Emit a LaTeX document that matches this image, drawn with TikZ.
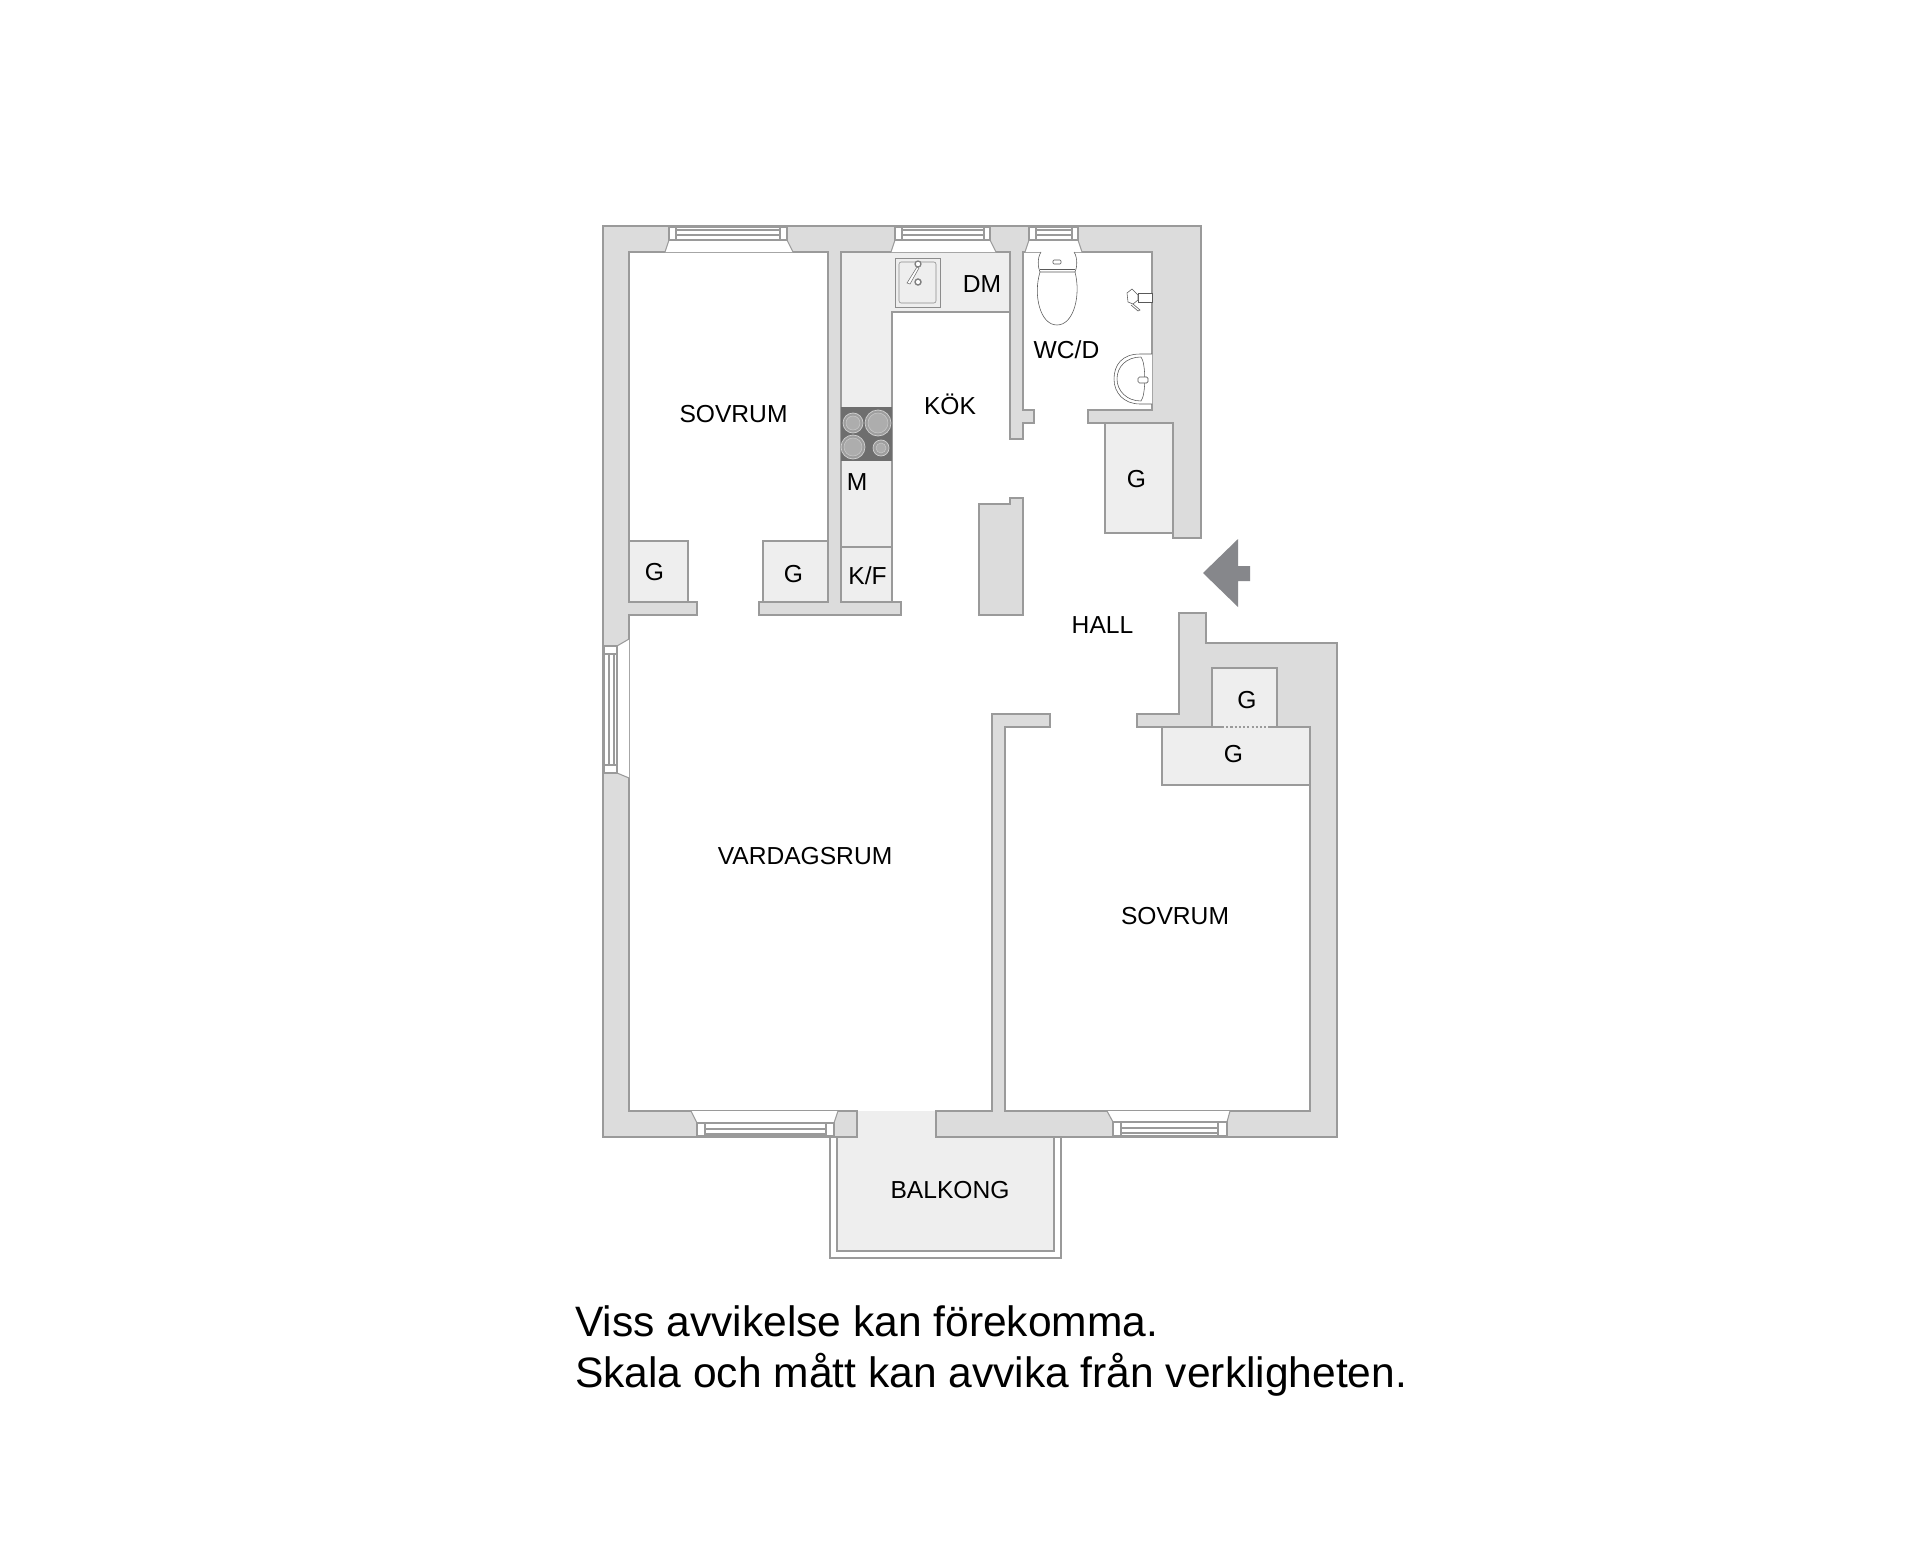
\documentclass[tikz,border=0pt]{standalone}
\usepackage{fontspec}
\setmainfont{Liberation Sans}
\definecolor{wallgray}{HTML}{DCDCDC}
\definecolor{linegray}{HTML}{9A9A9A}
\definecolor{fitgray}{HTML}{EEEEEE}
\definecolor{hobgray}{HTML}{6E6E6E}
\definecolor{arrowgray}{HTML}{86878B}

\begin{document}
\begin{tikzpicture}[x = 0.5mm, y = -0.5mm,
	wall/.style = {fill=wallgray,draw=linegray,line width=2pt,line join=miter},
	fitting/.style = {fill=fitgray,draw=linegray,line width=2pt},
	glass/.style = {fill=white,draw=linegray,line width=1.5pt},
	fixture/.style = {fill=white,draw=black!65,line width=0.8pt},
	ring/.style = {fill=black!38,draw=black!18,line width=1pt},
	core/.style = {fill=black!32,draw=black!22,line width=0.8pt},
	room/.style = {font=\fontsize{35}{42}\selectfont,inner sep=0pt},
	note/.style = {font=\fontsize{60.5}{72}\selectfont,inner sep=0pt,anchor=base west},]
	
	\path[use as bounding box,fill=white] (0,0) rectangle (1920,1567);
	
	\fill[fitgray] (857,1111) rectangle (936,1137);
	\draw[fill=white,draw=linegray,line width=2pt] (830,1137) -- (830,1258) -- (1061,1258) -- (1061,1137);
	\draw[fitting] (837,1137) -- (837,1251) -- (1054,1251) -- (1054,1137);
	
	\draw[fitting] (841,252) -- (1010,252) -- (1010,312) -- (892,312) -- (892,602) -- (841,602) -- cycle;
	\draw[fitting] (629,541) rectangle (688,602);
	\draw[fitting] (763,541) rectangle (828,602);
	\draw[fitting] (1105,423) rectangle (1173,533);
	\draw[draw=linegray,line width=1.5pt] (841,547) -- (892,547);
	
	\draw[wall] (1201,538) -- (1201,226) -- (603,226) -- (603,1137) -- (857,1137) -- (857,1111) -- (629,1111)
		-- (629,615) -- (697,615) -- (697,602) -- (629,602) -- (629,252) -- (828,252) -- (828,602) -- (759,602)
		-- (759,615) -- (901,615) -- (901,602) -- (841,602) -- (841,252) -- (1010,252) -- (1010,439) -- (1023,439)
		-- (1023,423) -- (1034,423) -- (1034,410) -- (1023,410) -- (1023,252) -- (1152,252) -- (1152,410)
		-- (1088,410) -- (1088,423) -- (1173,423) -- (1173,538) -- cycle;
	\draw[wall] (936,1137) -- (1337,1137) -- (1337,643) -- (1206,643) -- (1206,613) -- (1179,613) -- (1179,714)
		-- (1137,714) -- (1137,727) -- (1212,727) -- (1212,668) -- (1277,668) -- (1277,727) -- (1310,727)
		-- (1310,1111) -- (1005,1111) -- (1005,727) -- (1050,727) -- (1050,714) -- (992,714) -- (992,1111)
		-- (936,1111) -- cycle;
	\draw[wall] (979,615) -- (979,504) -- (1010,504) -- (1010,498) -- (1023,498) -- (1023,615) -- cycle;
	
	\fill[fitgray] (1213,669) rectangle (1276,727);
	\draw[fitting] (1162,727) -- (1162,785) -- (1310,785) -- (1310,727);
	\fill[fitgray] (1163,728) rectangle (1309,784);
	\draw[draw=linegray,line width=2pt] (1162,727) -- (1222,727) (1270,727) -- (1310,727);
	\draw[draw=linegray,line width=1.5pt,dashed] (1222,727) -- (1270,727);
	
	\draw[glass] (665,252) -- (669,240) -- (787,240) -- (793,252);
	\draw[glass] (669,227) rectangle (787,240);
	\draw[glass] (676,227) rectangle (780,240);
	\draw[glass] (676,230) rectangle (780,235);
	\draw[glass] (891,252) -- (895,240) -- (990,240) -- (996,252);
	\draw[glass] (895,227) rectangle (990,240);
	\draw[glass] (902,227) rectangle (984,240);
	\draw[glass] (902,230) rectangle (984,235);
	\draw[glass] (1025,252) -- (1029,240) -- (1078,240) -- (1082,252);
	\draw[glass] (1029,227) rectangle (1078,240);
	\draw[glass] (1036,227) rectangle (1072,240);
	\draw[glass] (1036,230) rectangle (1072,235);
	
	\draw[glass] (629,639) -- (617,646) -- (617,773) -- (629,778);
	\draw[glass] (604,646) rectangle (617,773);
	\draw[glass] (604,654) rectangle (617,765);
	\draw[glass] (609,654) rectangle (614,765);
	
	\draw[glass] (691,1111) -- (697,1123) -- (834,1123) -- (838,1111);
	\draw[glass] (697,1123) rectangle (834,1136);
	\draw[glass] (705,1123) rectangle (826,1136);
	\draw[glass] (705,1129) rectangle (826,1134);
	\draw[glass] (1107,1111) -- (1113,1122) -- (1227,1122) -- (1230,1111);
	\draw[glass] (1113,1122) rectangle (1227,1136);
	\draw[glass] (1121,1122) rectangle (1218,1136);
	\draw[glass] (1121,1128) rectangle (1218,1133);
	
	\fill[hobgray] (841,407) rectangle (892,461);
	\draw[ring] (853,423) circle [radius=10];
	\draw[core] (853,423) circle [radius=7];
	\draw[ring] (878,423) circle [radius=13];
	\draw[core] (878,423) circle [radius=10];
	\draw[ring] (853,447) circle [radius=12];
	\draw[core] (853,447) circle [radius=9];
	\draw[ring] (881,448) circle [radius=8];
	\draw[core] (881,448) circle [radius=5];
	
	\draw[fill=fitgray,draw=black!45,line width=1pt] (895,258) rectangle (940,307);
	\draw[fill=fitgray,draw=black!45,line width=0.8pt,rounded corners=3pt] (899,262) rectangle (936,303);
	\draw[fill=white,draw=black!55,line width=0.8pt] (917,267) -- (919,268) -- (910,284) -- (907,283) -- cycle;
	\draw[fill=white,draw=black!50,line width=1.8pt] (918,264) circle [radius=3];
	\draw[fill=white,draw=black!50,line width=2pt] (918,282) circle [radius=3];
	
	\draw[fixture] (1040,272) .. controls (1033,295) and (1040,325) .. (1057,325) .. controls (1074,325) and (1081,295) .. (1075,272);
	\draw[fixture] (1041,252) .. controls (1037,258) and (1038,268) .. (1040,272) -- (1075,272) .. controls (1077,268) and (1078,258) .. (1074,252);
	\draw[fixture] (1040,269) -- (1075,269);
	\draw[fixture,rounded corners=1.5pt] (1053,260) rectangle (1061,264);
	
	\draw[fixture] (1138,293) rectangle (1152,302);
	\draw[fixture] (1133,304) -- (1140,310) -- (1138,311) -- (1131,305);
	\draw[fixture] (1127,293) -- (1132,289) -- (1138,295) -- (1138,300) -- (1133,304) -- (1128,302) -- cycle;
	
	\draw[fixture] (1152,354) -- (1140,354) .. controls (1122,354) and (1114,365) .. (1114,379) .. controls (1114,393) and (1124,404) .. (1140,404) -- (1152,404);
	\draw[fixture] (1141,357) .. controls (1126,357) and (1117,367) .. (1117,379) .. controls (1117,391) and (1127,401) .. (1141,401) .. controls (1146,395) and (1146,363) .. (1141,357);
	\draw[fixture,rounded corners=2pt] (1138,377) rectangle (1148,383);
	
	\fill[arrowgray] (1203,573) -- (1238,539) -- (1238,566) -- (1250,566) -- (1250,581) -- (1238,581) -- (1238,607) -- cycle;
	
	\node[room] (sovrum1) at (733.5,414.5) {SOVRUM};
	\node[room] (dm) at (982,284.5) {DM};
	\node[room] (wcd) at (1066.5,349.5) {WC/D};
	\node[room] (kok) at (950,404) {KÖK};
	\node[room] (m) at (857,482.5) {M};
	\node[room] (g1) at (654.5,572.5) {G};
	\node[room] (g2) at (793.5,574.5) {G};
	\node[room] (kf) at (867.5,575.5) {K/F};
	\node[room] (g3) at (1136.5,479.5) {G};
	\node[room] (hall) at (1102.5,625) {HALL};
	\node[room] (g4) at (1247,700.5) {G};
	\node[room] (g5) at (1233.5,754.5) {G};
	\node[room] (vardagsrum) at (805,856.5) {VARDAGSRUM};
	\node[room] (sovrum2) at (1175,916.5) {SOVRUM};
	\node[room] (balkong) at (950,1190.5) {BALKONG};
	
	\node[note] (note1) at (575,1336) {Viss avvikelse kan förekomma.};
	\node[note] (note2) at (575,1387) {Skala och mått kan avvika från verkligheten.};
	
\end{tikzpicture}
\end{document}
